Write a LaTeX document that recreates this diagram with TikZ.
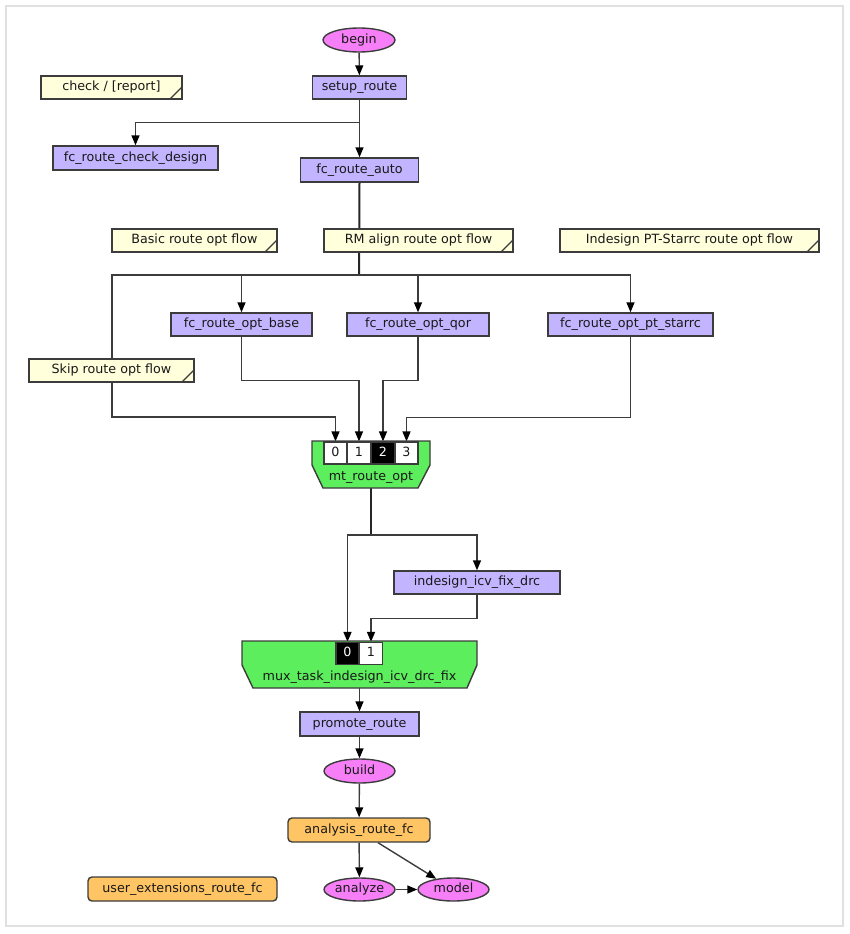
\documentclass[tikz,border=0pt]{standalone}
\usepackage{fontspec}
\setmainfont{DejaVu Sans}
\usetikzlibrary{arrows.meta,shapes.geometric}
\definecolor{edgec}{RGB}{60,60,60}
\definecolor{taskc}{RGB}{195,180,255}
\definecolor{ellc}{RGB}{246,126,246}
\definecolor{notec}{RGB}{255,255,220}
\definecolor{muxc}{RGB}{92,238,92}
\definecolor{anac}{RGB}{255,196,100}
\pgfdeclarelayer{bg}
\pgfsetlayers{bg,main}
\tikzset{
  every node/.style={font=\fontsize{12.7}{15}\selectfont, text=black!90, inner sep=0pt, text height=9.3pt, text depth=2.6pt},
  task/.style={draw=edgec, line width=1.4pt, fill=taskc, minimum height=23pt},
  ell/.style={ellipse, draw=edgec, line width=1.4pt, fill=ellc, minimum width=71pt, minimum height=24pt},
  ana/.style={draw=edgec, line width=1.4pt, fill=anac, rounded corners=4pt, minimum height=24pt},
  notebox/.style={draw=edgec, line width=1.4pt, fill=notec, minimum height=23pt,
    path picture={\draw[edgec, line width=1.1pt] ([xshift=-12pt]path picture bounding box.south east) -- ([yshift=12pt]path picture bounding box.south east);}},
  port/.style={draw=edgec, line width=1.2pt, fill=white, minimum width=23pt, minimum height=22pt},
  portsel/.style={port, fill=black, text=white},
  muxshape/.style={draw=edgec, line width=1.4pt, fill=muxc},
  conn/.style={draw=edgec, line width=1.4pt, -{Triangle[length=10pt,width=8pt,fill=black,color=black]}},
  plain/.style={draw=edgec, line width=1.4pt},
  trunk/.style={draw=black!85, line width=2pt},
}
\begin{document}
\begin{tikzpicture}[x=1pt,y=-1pt]
\useasboundingbox (0,0) rectangle (850,934);
\draw[black!12, line width=1.5pt] (6,6) rectangle (843,926);

% nodes
\node[ell, minimum width=72pt] (begin) at (359,40) {begin};
\node[task, minimum width=94pt] (setup) at (359.5,87.5) {setup\_route};
\node[notebox, minimum width=141pt] (nchk) at (111.5,87.5) {check / [report]};
\node[task, minimum width=165pt, minimum height=24pt] (chkd) at (135.5,158) {fc\_route\_check\_design};
\node[task, minimum width=118pt, minimum height=24pt] (auto) at (359.5,170) {fc\_route\_auto};
\node[task, minimum width=141pt] (base) at (241.5,324.5) {fc\_route\_opt\_base};
\node[task, minimum width=142pt] (qor) at (418,324.5) {fc\_route\_opt\_qor};
\node[task, minimum width=165pt] (starrc) at (630.5,324.5) {fc\_route\_opt\_pt\_starrc};

% mt_route_opt
\path[muxshape] (312,441) -- (430,441) -- (430,465) -- (418,488) -- (323,488) -- (312,465) -- cycle;
\node[port] (p0) at (335.5,453) {0};
\node[port] (p1) at (359,453) {1};
\node[portsel] (p2) at (383,453) {2};
\node[port] (p3) at (406.5,453) {3};
\node (mtlab) at (371,477) {mt\_route\_opt};
\coordinate (mtout) at (371,488);

\node[task, minimum width=166pt] (icv) at (477,582.5) {indesign\_icv\_fix\_drc};

% mux_task_indesign_icv_drc_fix
\path[muxshape] (242,641) -- (477,641) -- (477,665) -- (467,688) -- (253,688) -- (242,665) -- cycle;
\node[portsel] (q0) at (347.5,653.5) {0};
\node[port] (q1) at (371,653.5) {1};
\node (muxlab) at (359.5,677) {mux\_task\_indesign\_icv\_drc\_fix};
\coordinate (muxout) at (359.5,688);

\node[task, minimum width=119pt, minimum height=24pt] (promote) at (359.5,724) {promote\_route};
\node[ell] (build) at (359.5,771) {build};
\node[ana, minimum width=142pt] (analysis) at (359,830) {analysis\_route\_fc};
\node[ell, minimum height=23pt] (analyze) at (359.5,889.5) {analyze};
\node[ell, minimum height=23pt] (model) at (453.5,889.5) {model};
\node[ana, minimum width=189pt] (userext) at (182.5,889) {user\_extensions\_route\_fc};

% junction coordinates
\coordinate (split1) at (359,275);
\coordinate (skipa) at (112,275);
\coordinate (skipb) at (112,417);
\coordinate (split2) at (371,535);

% edges
\begin{pgfonlayer}{bg}
\draw[conn] (begin) -- (setup);
\draw[plain] (setup.south) -- ++(0,23) coordinate (split0);
\draw[conn] (split0) -| (chkd.north);
\draw[conn] (split0) -- (auto.north);
\draw[trunk] (auto.south) -- (split1);
\draw[line width=1.8pt, draw=black!80] (241.5,275) -- (418,275);
\draw[conn] (split1) -| (base.north);
\draw[conn] (split1) -| (qor.north);
\draw[conn] (split1) -| (starrc.north);
\draw[conn] (split1) -- (skipa) -- (skipb) -| (p0.north);
\draw[conn] (base.south) -- ++(0,44) -| (p1.north);
\draw[conn] (qor.south) -- ++(0,44) -| (p2.north);
\draw[conn] (starrc.south) -- ++(0,81) -| (p3.north);
\draw[trunk] (mtout) -- (split2);
\draw[conn] (split2) -| (q0.north);
\draw[conn] (split2) -| (icv.north);
\draw[conn] (icv.south) -- ++(0,24) -| (q1.north);
\draw[conn] (muxout) -- (promote.north);
\draw[conn] (promote) -- (build);
\draw[conn] (build) -- (analysis);
\draw[conn] (analysis) -- (analyze);
\draw[conn] ([xshift=19pt]analysis.south) -- (model);
\draw[conn] (analyze) -- (model);
\end{pgfonlayer}

% notes (drawn over connectors)
\node[notebox, minimum width=165pt] (nbasic) at (194.5,240.5) {Basic route opt flow};
\node[notebox, minimum width=189pt] (nrm) at (418.5,240.5) {RM align route opt flow};
\node[notebox, minimum width=259pt] (nind) at (689.5,240.5) {Indesign PT-Starrc route opt flow};
\node[notebox, minimum width=165pt] (nskip) at (111.5,370.5) {Skip route opt flow};
\end{tikzpicture}
\end{document}
